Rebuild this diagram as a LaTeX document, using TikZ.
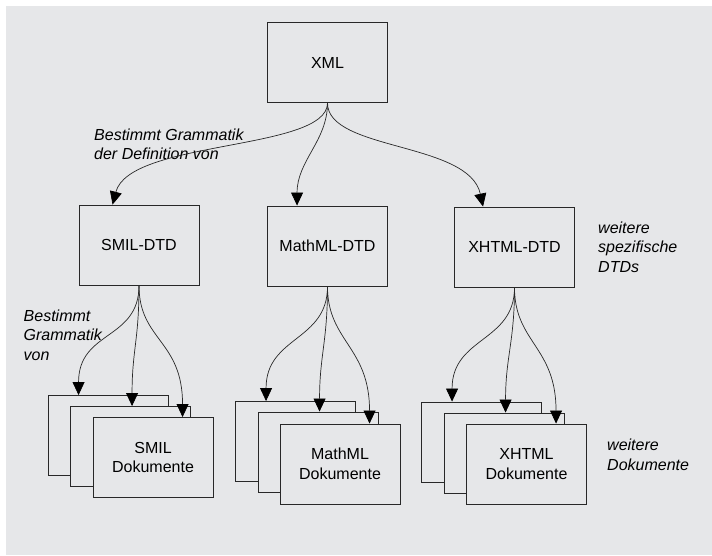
\documentclass[tikz,border=0pt]{standalone}
\usepackage{fontspec}
\setmainfont{Liberation Sans}
\usetikzlibrary{arrows.meta}
\definecolor{panel}{RGB}{230,231,233}
\definecolor{ink}{RGB}{40,40,40}
\tikzset{
  box/.style={draw=ink, line width=0.9pt, fill=panel, minimum width=120pt,
    minimum height=80pt, inner sep=0pt, align=center,
    font=\fontsize{16}{19.5}\selectfont},
  note/.style={anchor=west, align=left, inner sep=0pt,
    font=\fontsize{16}{19.5}\selectfont\itshape},
  link/.style={draw=ink, line width=0.7pt,
    -{Triangle[length=13pt,width=12pt,color=black]}},
}
\begin{document}
\begin{tikzpicture}[x=1pt,y=-1pt]
\useasboundingbox (0,0) rectangle (712,555);
\fill[panel] (5.5,5.5) rectangle (712,555);

% root
\node[box] (xml) at (327.5,62.5) {XML};

% DTD level
\node[box] (smil) at (139,245) {SMIL-DTD};
\node[box] (math) at (327.5,246) {MathML-DTD};
\node[box] (xhtml) at (514.5,247) {XHTML-DTD};

% document stacks (back to front)
\node[box] (s1) at (108,435.5) {};
\node[box] (s2) at (130.5,446.5) {};
\node[box] (s3) at (153,457.5) {SMIL\\Dokumente};

\node[box] (m1) at (295.5,441.5) {};
\node[box] (m2) at (318,452) {};
\node[box] (m3) at (340,464) {MathML\\Dokumente};

\node[box] (x1) at (481.5,442) {};
\node[box] (x2) at (504,453) {};
\node[box] (x3) at (526.5,464) {XHTML\\Dokumente};

% labels
\node[note] (l1) at (94,144.5) {Bestimmt Grammatik\\der Definition von};
\node[note] (l2) at (23.5,335) {Bestimmt\\Grammatik\\von};
\node[note] (l3) at (598,247) {weitere\\spezifische\\DTDs};
\node[note] (l4) at (607,455) {weitere\\Dokumente};

% XML -> DTDs
\draw[link] (xml.south) .. controls +(0,48) and +(17,-65) .. ([xshift=34pt]smil.north west);
\draw[link] (xml.south) .. controls +(0,38) and +(0,-45) .. ([xshift=30pt]math.north west);
\draw[link] (xml.south) .. controls +(0,48) and +(-14,-65) .. ([xshift=29pt]xhtml.north west);

% DTDs -> documents
\foreach \d/\a/\b/\c in {smil/s1/s2/s3, math/m1/m2/m3, xhtml/x1/x2/x3}{
  \draw[link] (\d.south) .. controls +(0,55) and +(0,-65) .. ([xshift=31pt]\a.north west);
  \draw[link] (\d.south) .. controls +(0,55) and +(0,-56) .. ([xshift=62pt]\b.north west);
  \draw[link] (\d.south) .. controls +(0,55) and +(0,-77) .. ([xshift=90pt]\c.north west);
}
\end{tikzpicture}
\end{document}
